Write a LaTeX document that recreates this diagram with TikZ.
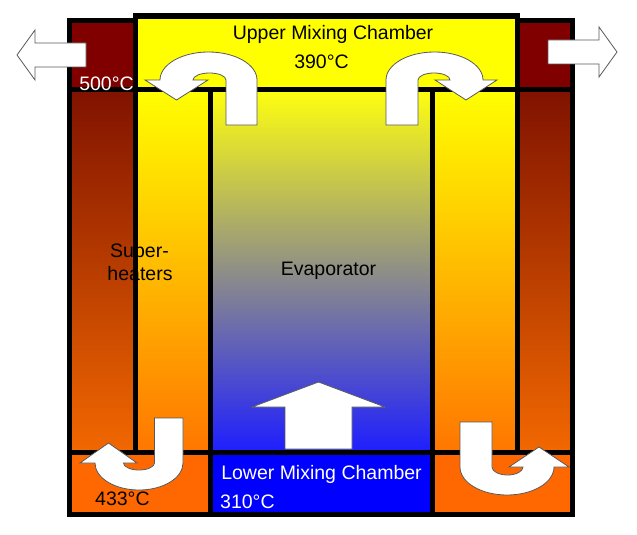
\documentclass[tikz,border=0pt]{standalone}
\usepackage{fontspec}
\setmainfont{Liberation Sans}
\definecolor{maroon}{RGB}{128,0,0}
\definecolor{rusttop}{RGB}{128,18,0}
\definecolor{rustbot}{RGB}{242,104,0}
\definecolor{heattop}{RGB}{255,255,0}
\definecolor{heatbot}{RGB}{255,118,0}
\definecolor{evaptop}{RGB}{255,255,15}
\definecolor{evapmid}{RGB}{200,200,178}
\definecolor{evapbot}{RGB}{30,30,255}
\definecolor{mixorange}{RGB}{255,104,0}
\definecolor{mixblue}{RGB}{0,0,255}

\begin{document}
\begin{tikzpicture}[x=1pt,y=-1pt]
	\tikzset{wall/.style={line width=5.8pt},
		turn/.style={draw=black!65, line width=.8pt, fill=white},
		lbl/.style={font=\fontsize{19.5}{23}\selectfont, inner sep=0pt, anchor=base}}
	\useasboundingbox (0,0) rectangle (637,535);
	% chambers
	\fill[maroon] (69.5,20.5) rectangle (135.5,89.5) (517.5,20.5) rectangle (572.5,89.5);
	\fill[heattop] (135.5,16) rectangle (517.5,89.5);
	\shade[top color=rusttop, bottom color=rustbot] (69.5,89.5) rectangle (135.5,452.5);
	\shade[top color=rusttop, bottom color=rustbot] (517.5,89.5) rectangle (572.5,452.5);
	\shade[top color=heattop, bottom color=heatbot] (135.5,89.5) rectangle (210.5,452.5);
	\shade[top color=heattop, bottom color=heatbot] (432.5,89.5) rectangle (517.5,452.5);
	\shade[top color=evaptop, middle color=evapmid, bottom color=evapbot] (210.5,89.5) rectangle (432.5,452.5);
	\fill[mixorange] (69.5,452.5) rectangle (210.5,514.5) (432.5,452.5) rectangle (572.5,514.5);
	\fill[mixblue] (210.5,452.5) rectangle (432.5,514.5);
	% walls
	\draw[wall]
	(69.5,20.5) rectangle (135.5,452.5)
	(135.5,16) rectangle (517.5,89.5)
	(517.5,20.5) rectangle (572.5,452.5)
	(69.5,89.5)--(572.5,89.5)
	(210.5,89.5)--(210.5,514.5)
	(432.5,89.5)--(432.5,514.5)
	(69.5,452.5) rectangle (572.5,514.5)
	;
	% flow arrows
	\draw[turn] (86,43)--(35,43)--(35,30)--(17,55)--(35,80)--(35,67)--(86,67)--cycle;
	\draw[turn] (548,40)--(599,40)--(599,27)--(617,52)--(599,77)--(599,64)--(548,64)--cycle;
	\draw[turn] (285,449)--(285,407)--(252,407)--(318.5,382)--(385,407)--(352,407)--(352,449)--cycle;
	\draw[turn] (257,125)--(257,80) arc[start angle=0, end angle=-180, x radius=48.5, y radius=28]
		--(145,80)--(176.5,100)--(208,80)--(193,80)
		arc[start angle=180, end angle=360, x radius=16.5, y radius=7]--(226,125)--cycle;
	\draw[turn] (386,125)--(386,80) arc[start angle=180, end angle=360, x radius=48.5, y radius=28]
		--(497,80)--(466,100)--(435,80)--(450,80)
		arc[start angle=0, end angle=-180, x radius=16, y radius=7]--(418,125)--cycle;
	\draw[turn] (183,418)--(183,463) arc[start angle=0, end angle=180, x radius=44, y radius=27]
		--(80,463)--(108.5,443)--(137,463)--(123.5,463)
		arc[start angle=180, end angle=0, x radius=15.5, y radius=7]--(154.5,418)--cycle;
	\draw[turn] (460,422)--(460,467) arc[start angle=180, end angle=0, x radius=47, y radius=28]
		--(569,467)--(539,447)--(509,467)--(523,467)
		arc[start angle=0, end angle=180, x radius=15.5, y radius=8]--(492,422)--cycle;
	% labels
	\node[lbl] (upper) at (333,40) {Upper Mixing Chamber};
	\node[lbl] (upperT) at (321.5,68) {390°C};
	\node[lbl, white] (hotT) at (106.5,90) {500°C};
	\node[lbl] (superA) at (139.5,257) {Super-};
	\node[lbl] (superB) at (140,280) {heaters};
	\node[lbl] (evap) at (328.5,275) {Evaporator};
	\node[lbl, white] (lower) at (321.5,479) {Lower Mixing Chamber};
	\node[lbl, white, anchor=base west] (lowerT) at (220,508) {310°C};
	\node[lbl, anchor=base west] (coolT) at (95,505) {433°C};
\end{tikzpicture}
\end{document}
